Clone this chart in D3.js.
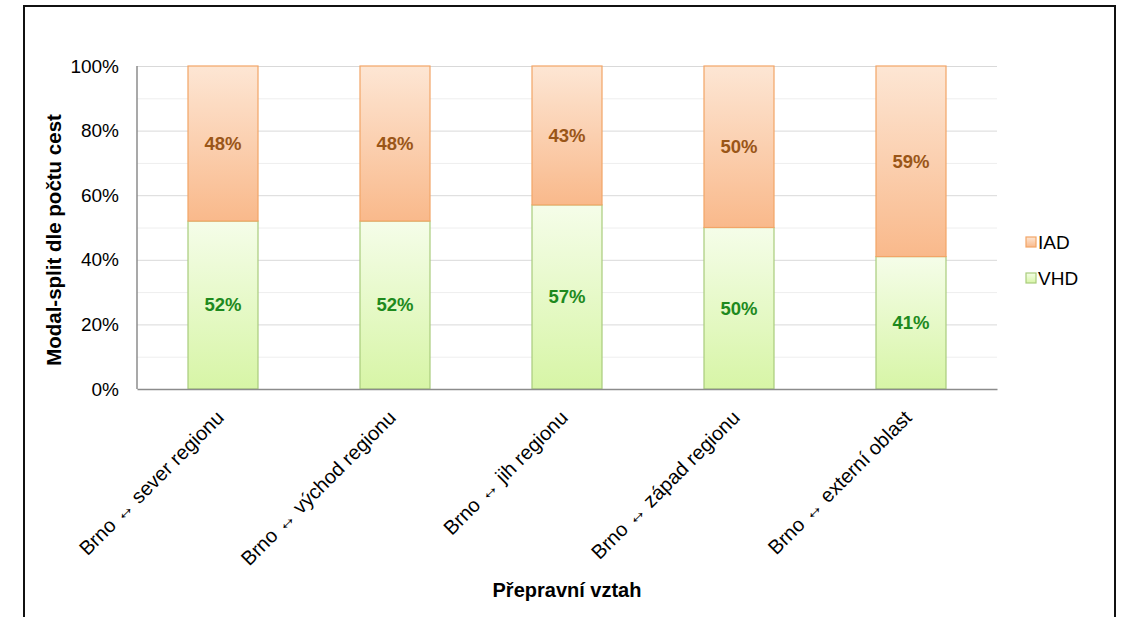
<!DOCTYPE html>
<meta charset="utf-8">
<script src="https://d3js.org/d3.v7.min.js"></script>
<style>
  body { margin: 0; background: #fff; }
  text { font-family: "Liberation Sans", Arial, sans-serif; }
</style>
<div id="chart"></div>
<script>
  // data
  var categories = ["Brno \u2194 sever regionu", "Brno \u2194 východ regionu", "Brno \u2194 jih regionu", "Brno \u2194 západ regionu", "Brno \u2194 externí oblast"];
  var vhd = [52, 52, 57, 50, 41];
  var iad = [48, 48, 43, 50, 59];
  var seriesNames = ["IAD", "VHD"];
  var yTicks = [0, 20, 40, 60, 80, 100];

  var W = 1132, H = 617;
  var margin = {top: 66, right: 135, bottom: 228, left: 137};
  var width = W - margin.left - margin.right;
  var height = H - margin.top - margin.bottom;

  var svg = d3.select("#chart").append("svg")
    .attr("width", W).attr("height", H);

  // gradients
  var defs = svg.append("defs");
  function grad(id, c1, c2) {
    var g = defs.append("linearGradient").attr("id", id)
      .attr("x1", 0).attr("y1", 0).attr("x2", 0).attr("y2", 1);
    g.append("stop").attr("offset", "0%").attr("stop-color", c1);
    g.append("stop").attr("offset", "100%").attr("stop-color", c2);
  }
  grad("gIAD", "#fde6d4", "#f9b98b");
  grad("gVHD", "#f5fde9", "#d7f5a6");

  // outer frame
  svg.append("rect")
    .attr("x", 24).attr("y", 6).attr("width", 1091).attr("height", 620)
    .attr("fill", "none").attr("stroke", "#111").attr("stroke-width", 2);

  var g = svg.append("g").attr("transform", "translate(" + margin.left + "," + margin.top + ")");

  var x = d3.scaleBand().domain(categories).range([0, width]).paddingInner(0.593).paddingOuter(0.2965);
  var y = d3.scaleLinear().domain([0, 100]).range([height, 0]);

  // minor grid
  g.append("g")
    .call(d3.axisLeft(y).tickValues(d3.range(10, 100, 20)).tickSize(-width).tickFormat(""))
    .call(function(s) { s.select(".domain").remove(); s.selectAll("line").attr("stroke", "#eeeeee"); });
  // major grid
  g.append("g")
    .call(d3.axisLeft(y).tickValues(yTicks.slice(1)).tickSize(-width).tickFormat(""))
    .call(function(s) { s.select(".domain").remove(); s.selectAll("line").attr("stroke", "#d9d9d9"); });

  // y axis labels
  g.append("g")
    .call(d3.axisLeft(y).tickValues(yTicks).tickSize(0).tickPadding(18).tickFormat(function(d) { return d + "%"; }))
    .call(function(s) {
      s.select(".domain").remove();
      s.selectAll("text").attr("font-size", 19).attr("fill", "#000")
        .style("font-family", "'Liberation Sans', Arial, sans-serif");
    });

  var rows = categories.map(function(c, i) { return {cat: c, vhd: vhd[i], iad: iad[i]}; });

  // VHD bars
  g.selectAll(".vhd").data(rows).enter().append("rect")
    .attr("x", function(d) { return x(d.cat); })
    .attr("y", function(d) { return y(d.vhd); })
    .attr("width", x.bandwidth())
    .attr("height", function(d) { return y(0) - y(d.vhd); })
    .attr("fill", "url(#gVHD)").attr("stroke", "#a9cc7c").attr("stroke-width", 1.2);

  // IAD bars
  g.selectAll(".iad").data(rows).enter().append("rect")
    .attr("x", function(d) { return x(d.cat); })
    .attr("y", function(d) { return y(d.vhd + d.iad); })
    .attr("width", x.bandwidth())
    .attr("height", function(d) { return y(d.vhd) - y(d.vhd + d.iad); })
    .attr("fill", "url(#gIAD)").attr("stroke", "#f2a567").attr("stroke-width", 1.2);

  // value labels
  g.selectAll(".lv").data(rows).enter().append("text")
    .attr("x", function(d) { return x(d.cat) + x.bandwidth() / 2; })
    .attr("y", function(d) { return y(d.vhd / 2); })
    .attr("dy", "0.35em").attr("text-anchor", "middle")
    .attr("font-size", 18.5).attr("font-weight", "bold").attr("fill", "#1e8a1e")
    .text(function(d) { return d.vhd + "%"; });
  g.selectAll(".li").data(rows).enter().append("text")
    .attr("x", function(d) { return x(d.cat) + x.bandwidth() / 2; })
    .attr("y", function(d) { return y(d.vhd + d.iad / 2); })
    .attr("dy", "0.35em").attr("text-anchor", "middle")
    .attr("font-size", 18.5).attr("font-weight", "bold").attr("fill", "#9a5618")
    .text(function(d) { return d.iad + "%"; });

  // x axis
  g.append("g").attr("transform", "translate(0," + height + ")")
    .call(d3.axisBottom(x).tickSize(0).tickPadding(0))
    .call(function(s) {
      s.select(".domain").attr("stroke", "#8c8c8c").attr("stroke-width", 1.5);
      s.selectAll("text")
        .attr("font-size", 20).attr("fill", "#000")
        .style("font-family", "'Liberation Sans', Arial, sans-serif")
        .attr("text-anchor", "end")
        .attr("dy", 0)
        .attr("transform", "translate(2,30) rotate(-45)");
    });
  // y axis line
  g.append("line").attr("x1", 0).attr("x2", 0).attr("y1", 0).attr("y2", height)
    .attr("stroke", "#8c8c8c").attr("stroke-width", 1.5);

  // axis titles
  svg.append("text")
    .attr("transform", "translate(61,240) rotate(-90)")
    .attr("text-anchor", "middle").attr("font-size", 20.5).attr("font-weight", "bold")
    .text("Modal-split dle počtu cest");
  svg.append("text")
    .attr("x", margin.left + width / 2).attr("y", 597)
    .attr("text-anchor", "middle").attr("font-size", 20).attr("font-weight", "bold")
    .text("Přepravní vztah");

  // legend
  var colors = {IAD: ["url(#gIAD)", "#f2a567"], VHD: ["url(#gVHD)", "#a9cc7c"]};
  var leg = svg.append("g").attr("transform", "translate(1026,237)");
  seriesNames.forEach(function(n, i) {
    var r = leg.append("g").attr("transform", "translate(0," + i * 36 + ")");
    r.append("rect").attr("width", 10).attr("height", 10)
      .attr("fill", colors[n][0]).attr("stroke", colors[n][1]).attr("stroke-width", 1.2);
    r.append("text").attr("x", 12).attr("y", 5).attr("dy", "0.35em")
      .attr("font-size", 19).text(n);
  });
</script>
